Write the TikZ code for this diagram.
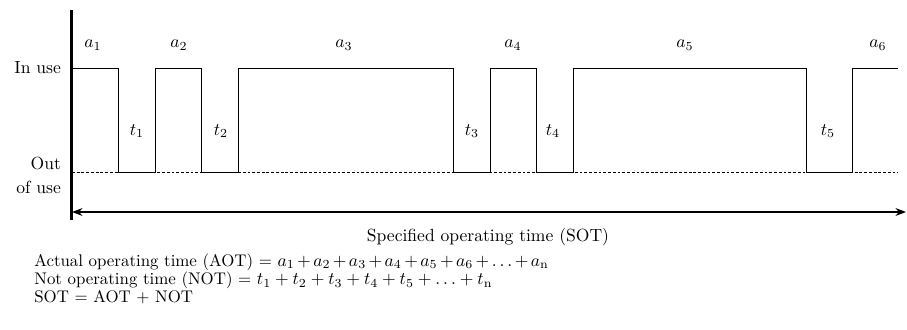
\documentclass[tikz,border=0pt]{standalone}
\usepackage{amsmath}
\usepackage{tikz}
\usetikzlibrary{arrows.meta, positioning}

\begin{document}
\begin{tikzpicture}[
    x=0.02cm, y=-0.02cm,
    lbl/.style={inner sep=1pt, font=\normalsize},
    txt/.style={inner sep=0pt, align=left, font=\fontsize{9.6}{9}\selectfont},
    wave/.style={line width=0.5pt},
    base/.style={dash pattern=on 1.6pt off 1.1pt, line width=0.4pt},
    axis/.style={line width=1.2pt},
    arr/.style={{Stealth[length=6pt, width=4.5pt]}-{Stealth[length=6pt, width=4.5pt]}, line width=0.6pt},
]
\useasboundingbox (0,0) rectangle (907,329);

\coordinate (axtop) at (71.5,10);
\coordinate (axbot) at (71.5,220);
\draw[axis] (axtop) -- (axbot);

\node[lbl, anchor=east] (inuse) at (63,68) {In use};
\node[lbl, anchor=east, align=right] (outuse) at (63,175.5) {Out\\[1.5pt]of use};

\draw[base] (72,172) -- (898,172);
\draw[wave] (72,68) -- (118,68) -- (118,172) -- (155,172) -- (155,68)
    -- (201,68) -- (201,172) -- (238,172) -- (238,68)
    -- (453,68) -- (453,172) -- (490,172) -- (490,68)
    -- (536,68) -- (536,172) -- (573,172) -- (573,68)
    -- (806,68) -- (806,172) -- (852,172) -- (852,68) -- (898,68);

\foreach \x/\i in {93/1, 179/2, 344/3, 513/4, 685/5, 878/6}
    \node[lbl] (a\i) at (\x,45) {$a_{\i}$};
\foreach \x/\i in {137/1, 221/2, 472/3, 553/4, 828/5}
    \node[lbl] (t\i) at (\x,131) {$t_{\i}$};

\coordinate (sotL) at (72,212);
\coordinate (sotR) at (906,212);
\draw[arr] (sotL) -- (sotR);
\node[lbl] (sot) at (488,237) {Specified operating time (SOT)};

\node[txt, anchor=north west] (formulas) at (34,253) {%
    \medmuskip=2.5mu
    Actual operating time (AOT) = $a_1 + a_2 + a_3 + a_4 + a_5 + a_6 + .\,.\,. + a_{\mathrm{n}}$\\
    Not operating time (NOT) = $t_1 + t_2 + t_3 + t_4 + t_5 + .\,.\,. + t_{\mathrm{n}}$\\
    SOT = AOT + NOT};
\end{tikzpicture}
\end{document}
